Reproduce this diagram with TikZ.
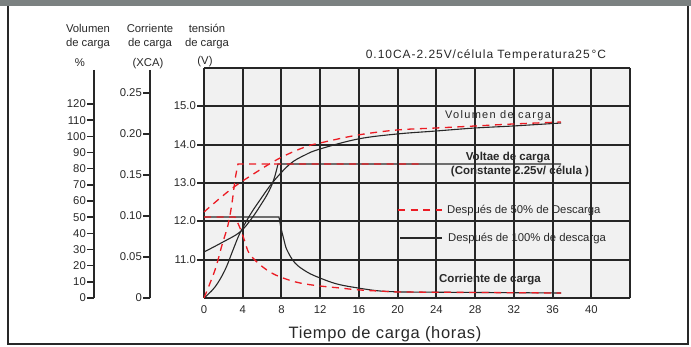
\documentclass[tikz,border=0pt]{standalone}
\usepackage{fontspec}
\setmainfont{Liberation Sans}
\newfontfamily\titulofuente[LetterSpace=8]{Liberation Sans}
\newfontfamily\anchafuente[LetterSpace=12]{Liberation Sans}
\newfontfamily\ejefuente[LetterSpace=4]{Liberation Sans}
\usetikzlibrary{positioning}

\definecolor{rojo}{RGB}{236,28,36}
\definecolor{fondo}{RGB}{241,241,241}
\definecolor{barra}{RGB}{123,129,129}
\definecolor{tinta}{RGB}{40,40,40}

\tikzset{
	rejilla/.style={black!85, line width=1.6pt},
	eje/.style={tinta, line width=1.5pt},
	carga50/.style={rojo, line width=1.3pt, dash pattern=on 7pt off 5.5pt},
	carga100/.style={tinta, line width=1.1pt},
	texto/.style={text=tinta, inner sep=0pt, font=\fontsize{11.3}{14}\selectfont},
	negrita/.style={texto, font=\fontsize{11.5}{14}\selectfont\bfseries},
}

\begin{document}
\begin{tikzpicture}[x=1pt, y=-1pt]
	\useasboundingbox (0,0) rectangle (691,347);

	% Barra superior y marco
	\fill[barra] (0,0) rectangle (691,6.5);
	\draw[tinta, line width=2pt] (7.5,6.5) -- (7.5,344) -- (687.5,344) -- (687.5,6.5);

	% Rejilla: 0-44 h, 10-16 V
	\fill[fondo] (204,68) rectangle (630,298);
	\foreach \i in {0,...,11} {
		\pgfmathsetmacro{\gx}{204+round(38.727*\i)}
		\draw[rejilla] (\gx,68) -- (\gx,298);
	}
	\foreach \j in {0,...,6} {
		\pgfmathsetmacro{\gy}{68+round(38.333*\j)}
		\draw[rejilla] (204,\gy) -- (630,\gy);
	}

	% Eje de tiempo
	\foreach \h in {0,4,...,40}
		\node[texto] (h\h) at ({204+9.682*\h},310) {\h};
	\node[texto, font=\ejefuente\fontsize{16.5}{18}\selectfont, anchor=base] (tiempo) at (385,339) {Tiempo de carga (horas)};

	% Eje de tension
	\foreach \v [count=\j] in {15.0,14.0,13.0,12.0,11.0} {
		\pgfmathsetmacro{\gy}{68+round(38.333*\j)}
		\draw[eje] (197,\gy) -- (204,\gy);
		\node[texto, left] (v\j) at (196,\gy) {\v};
	}

	% Eje de volumen
	\draw[eje] (94,70) -- (94,298);
	\foreach \p in {0,10,...,120} {
		\draw[eje] (87,{298-1.617*\p}) -- (94,{298-1.617*\p});
		\node[texto, left] (p\p) at (86,{298-1.617*\p}) {\p};
	}

	% Eje de corriente
	\draw[eje] (150,70) -- (150,298);
	\foreach \ic [count=\k from 0] in {0,0.05,0.10,0.15,0.20,0.25} {
		\draw[eje] (143,{298-41*\k}) -- (150,{298-41*\k});
		\node[texto, left] (c\k) at (142,{298-41*\k}) {\ic};
	}

	% Cabeceras
	\node[texto, align=center] (hvol) at (88,37) {Volumen\\de carga};
	\node[texto, anchor=base] (hpor) at (80,67) {\%};
	\node[texto, align=center] (hcor) at (150,37) {Corriente\\de carga};
	\node[texto, anchor=base] (hxca) at (148,67) {(XCA)};
	\node[texto, align=center] (hten) at (207,37) {tensión\\de carga};
	\node[texto, anchor=base] (hv) at (205,65) {(V)};
	\node[texto, font=\titulofuente\fontsize{12}{14}\selectfont, anchor=base] (titulo) at (486,59) {0.10CA-2.25V/célula Temperatura25\,°C};

	% Despues de 100% de descarga
	\draw[carga100] plot[smooth, tension=0.6] coordinates {(204,298) (215,287) (225,270) (233,250) (240,233) (250,215) (260,200) (273,182) (290,164) (305,155) (320,149) (358,139) (397,134) (436,131) (475,128) (513,126) (561,123)};
	\draw[carga100] plot[smooth, tension=0.6] coordinates {(204,252) (223,242) (240,232) (252,218) (262,203) (268,193) (273,182) (276,172) (278,164)} -- (561,164);
	\draw[carga100] (204,298) -- (204,217) -- (279,217) -- plot[smooth, tension=0.6] coordinates {(279,217) (281,228) (284,240) (287,250) (295,263) (307,272) (320,278) (337,284) (358,288) (380,291) (403,292)} -- (561,293);

	% Despues de 50% de descarga
	\draw[carga50] plot[smooth, tension=0.6] coordinates {(204,212) (230,190) (255,173) (280,158) (305,147) (320,143) (358,135) (397,130) (436,128) (475,126) (513,124) (561,122)};
	\draw[carga50] plot[smooth, tension=0.6] coordinates {(204,298) (215,270) (222,245) (228,225) (232,203) (235,180) (238,164)} -- (423,164);
	\draw[carga50] (204,217) -- (235,217) -- plot[smooth, tension=0.6] coordinates {(235,217) (240,228) (245,242) (249,253) (258,263) (270,272) (283,278) (300,283) (320,286) (340,288) (360,290) (398,292)} -- (561,293);

	% Rotulos de las curvas
	\node[texto, font=\anchafuente\fontsize{11}{14}\selectfont, anchor=base] (lvol) at (498,119) {Volumen de carga};
	\node[negrita, anchor=base] (lvolt) at (508,161) {Voltae de carga};
	\node[negrita, anchor=base] (lcons) at (520,175) {(Constante 2.25v/ célula )};
	\node[negrita, anchor=base] (lcor) at (490,283) {Corriente de carga};

	% Leyenda
	\node[texto, anchor=base west] (t50) at (447,214) {Después de 50\% de Descarga};
	\node[texto, anchor=base west] (t100) at (448,242) {Después de 100\% de descarga};
	\coordinate (l50) at (398,210);
	\coordinate (l100) at (400,238);
	\draw[carga50, shorten >=5pt] (l50) -- (l50 -| t50.west);
	\draw[carga100, shorten >=6pt] (l100) -- (l100 -| t100.west);
\end{tikzpicture}
\end{document}
